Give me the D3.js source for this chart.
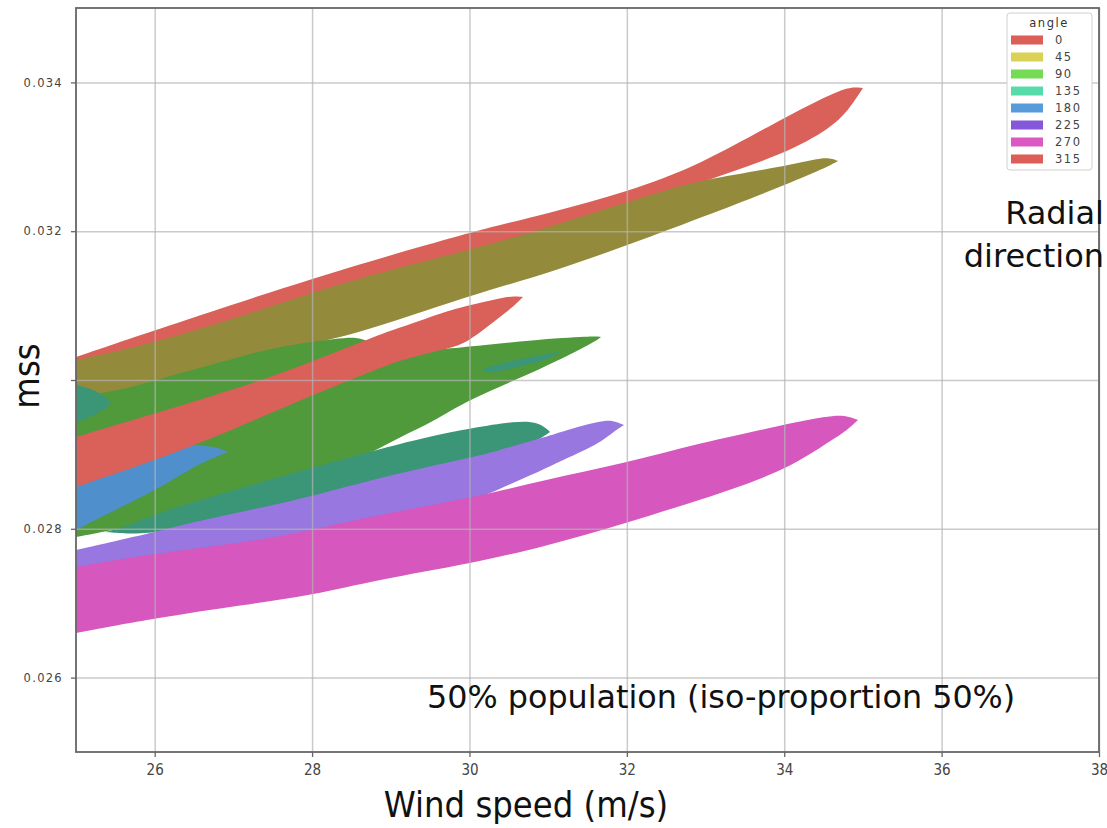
<!DOCTYPE html>
<html lang="en">
<head>
	<meta charset="utf-8">
	<title>mss vs wind speed - radial direction</title>
	<script src="https://d3js.org/d3.v7.min.js"></script>
	<style>
		body { margin: 0; background: #fff; }
		.tick text { fill: #444; }
		.xaxis .tick text { font-family: 'DejaVu Sans Condensed', 'DejaVu Sans', sans-serif; font-stretch: condensed; font-size: 15px; }
		.yaxis .tick text { font-family: 'DejaVu Sans', sans-serif; font-size: 11.5px; letter-spacing: 1.3px; }
		.tick line { stroke: #666; stroke-width: 1.3; }
		.grid line { stroke: #b4b4b4; stroke-opacity: 0.7; stroke-width: 1.5; }
		.grid .domain { display: none; }
	</style>
</head>
<body>
<div id="chart"></div>
<script>
	// legend / categories
	const angles = [0, 45, 90, 135, 180, 225, 270, 315];
	const legendColors = ["#db5f57", "#dbd157", "#75db57", "#57dbab", "#579bdb", "#8557db", "#db57c1", "#db5f57"];
	const fillColors = ["#da605a", "#948a3b", "#509a3c", "#3a9676", "#4f8fcb", "#9877e0", "#d657bd", "#da605a"];

	const xTicks = [26, 28, 30, 32, 34, 36, 38];
	const yTicks = [0.026, 0.028, 0.030, 0.032, 0.034];
	const yTickLabels = ["0.026", "0.028", "", "0.032", "0.034"];

	// 50% iso-proportion contours: wind speed, upper mss, lower mss
	const ws0 = [25.000, 26.017, 27.999, 30.007, 31.024, 32.002, 32.930, 33.985, 34.620, 34.836, 35.001];
	const hi0 = [0.030309, 0.030672, 0.031371, 0.031989, 0.032245, 0.032527, 0.032890, 0.033522, 0.033858, 0.033938, 0.033925];
	const lo0 = [0.030202, 0.030470, 0.031075, 0.031613, 0.031882, 0.032285, 0.032661, 0.033024, 0.033401, 0.033656, 0.033925];

	const ws45 = [25.000, 26.017, 27.542, 28.482, 30.007, 31.024, 32.294, 32.930, 33.985, 34.518, 34.684];
	const hi45 = [0.030269, 0.030497, 0.031008, 0.031344, 0.031747, 0.032056, 0.032487, 0.032688, 0.032863, 0.033011, 0.032944];
	const lo45 = [0.029731, 0.029933, 0.030403, 0.030578, 0.031142, 0.031438, 0.031922, 0.032177, 0.032608, 0.032849, 0.032944];

	const ws90 = [25.000, 25.419, 26.017, 27.122, 27.542, 28.355, 28.609, 28.812, 29.117, 29.537, 29.969, 30.808, 31.570, 31.672];
	const hi90 = [0.029785, 0.029825, 0.030000, 0.030323, 0.030444, 0.030565, 0.030578, 0.030470, 0.030376, 0.030403, 0.030444, 0.030538, 0.030591, 0.030578];
	const lo90 = [0.027890, 0.027970, 0.028105, 0.028427, 0.028589, 0.028858, 0.028952, 0.029059, 0.029234, 0.029435, 0.029731, 0.030094, 0.030497, 0.030578];

	const ws135a = [25.000, 25.241, 25.369, 25.445];
	const hi135a = [0.029933, 0.029866, 0.029785, 0.029691];
	const lo135a = [0.029422, 0.029530, 0.029610, 0.029691];

	const ws135b = [30.159, 30.261, 30.642, 30.960, 31.151];
	const hi135b = [0.030134, 0.030188, 0.030282, 0.030349, 0.030376];
	const lo135b = [0.030134, 0.030081, 0.030188, 0.030255, 0.030376];

	const ws135c = [25.369, 25.635, 26.017, 27.122, 28.812, 29.448, 30.045, 30.592, 30.884, 31.024];
	const hi135c = [0.027957, 0.028024, 0.028212, 0.028562, 0.029059, 0.029234, 0.029355, 0.029449, 0.029435, 0.029301];
	const lo135c = [0.027957, 0.027930, 0.027944, 0.028118, 0.028589, 0.028723, 0.028898, 0.029086, 0.029194, 0.029301];

	const ws180 = [25.000, 25.496, 26.017, 26.487, 26.779, 26.932];
	const hi180 = [0.028589, 0.028858, 0.029099, 0.029140, 0.029099, 0.029032];
	const lo180 = [0.027984, 0.028253, 0.028522, 0.028831, 0.028965, 0.029032];

	const ws225 = [25.000, 26.017, 26.576, 27.847, 28.812, 30.045, 30.299, 31.011, 31.189, 31.659, 31.812, 31.964];
	const hi225 = [0.027715, 0.027957, 0.028118, 0.028387, 0.028683, 0.028965, 0.029032, 0.029247, 0.029315, 0.029449, 0.029462, 0.029395];
	const lo225 = [0.027379, 0.027581, 0.027688, 0.027917, 0.028145, 0.028387, 0.028495, 0.028831, 0.028925, 0.029153, 0.029288, 0.029395];

	const ws270 = [25.000, 26.017, 27.122, 28.012, 28.812, 30.045, 30.935, 31.989, 32.930, 33.985, 34.544, 34.773, 34.938];
	const hi270 = [0.027487, 0.027675, 0.027809, 0.027984, 0.028185, 0.028414, 0.028656, 0.028884, 0.029153, 0.029395, 0.029516, 0.029530, 0.029462];
	const lo270 = [0.026599, 0.026801, 0.026976, 0.027110, 0.027312, 0.027540, 0.027755, 0.028078, 0.028387, 0.028763, 0.029153, 0.029301, 0.029462];

	const ws315 = [25.000, 26.017, 26.906, 27.847, 28.901, 29.117, 29.753, 29.969, 30.388, 30.579, 30.681];
	const hi315 = [0.029234, 0.029556, 0.029839, 0.030175, 0.030632, 0.030699, 0.030941, 0.030995, 0.031102, 0.031129, 0.031116];
	const lo315 = [0.028562, 0.028925, 0.029288, 0.029731, 0.030175, 0.030269, 0.030430, 0.030497, 0.030847, 0.031008, 0.031116];

	// drawing order = hue order
	const layers = [
		[ws0, hi0, lo0, 0],
		[ws45, hi45, lo45, 1],
		[ws90, hi90, lo90, 2],
		[ws135a, hi135a, lo135a, 3],
		[ws135b, hi135b, lo135b, 3],
		[ws135c, hi135c, lo135c, 3],
		[ws180, hi180, lo180, 4],
		[ws225, hi225, lo225, 5],
		[ws270, hi270, lo270, 6],
		[ws315, hi315, lo315, 7]
	];

	const width = 1107;
	const height = 828;
	const plotLeft = 76, plotTop = 8, plotRight = 1099, plotBottom = 752;

	const svg = d3.select("#chart").append("svg")
		.attr("width", width)
		.attr("height", height);

	const x = d3.scaleLinear().domain([25, 38]).range([plotLeft, plotRight]);
	const y = d3.scaleLinear().domain([0.025, 0.035]).range([plotBottom, plotTop]);

	svg.append("clipPath").attr("id", "plotclip")
		.append("rect")
		.attr("x", plotLeft).attr("y", plotTop)
		.attr("width", plotRight - plotLeft).attr("height", plotBottom - plotTop);

	// filled contours
	const area = d3.area()
		.x(d => x(d[0]))
		.y0(d => y(d[2]))
		.y1(d => y(d[1]))
		.curve(d3.curveBasis);

	const shapes = svg.append("g").attr("clip-path", "url(#plotclip)");
	layers.forEach(function(l) {
		let pts = l[0].map((w, i) => [w, l[1][i], l[2][i]]);
		shapes.append("path")
			.attr("d", area(pts))
			.attr("fill", fillColors[l[3]]);
	});

	// grid on top of the fills
	svg.append("g")
		.attr("class", "grid")
		.attr("transform", "translate(0," + plotBottom + ")")
		.call(d3.axisBottom(x).tickValues(xTicks).tickSize(-(plotBottom - plotTop)).tickFormat(""));
	svg.append("g")
		.attr("class", "grid")
		.attr("transform", "translate(" + plotLeft + ",0)")
		.call(d3.axisLeft(y).tickValues(yTicks).tickSize(-(plotRight - plotLeft)).tickFormat(""));

	// axes
	const xAxis = svg.append("g")
		.attr("class", "xaxis")
		.attr("transform", "translate(0," + plotBottom + ")")
		.call(d3.axisBottom(x).tickValues(xTicks).tickSize(5).tickPadding(7).tickFormat(d3.format("d")));
	xAxis.select(".domain").remove();

	const yAxis = svg.append("g")
		.attr("class", "yaxis")
		.attr("transform", "translate(" + plotLeft + ",0)")
		.call(d3.axisLeft(y).tickValues(yTicks).tickSize(5).tickPadding(8)
			.tickFormat((d, i) => yTickLabels[i]));
	yAxis.select(".domain").remove();

	// frame
	svg.append("rect")
		.attr("x", plotLeft).attr("y", plotTop)
		.attr("width", plotRight - plotLeft).attr("height", plotBottom - plotTop)
		.attr("fill", "none")
		.attr("stroke", "#666")
		.attr("stroke-width", 1.8);

	// axis titles
	svg.append("text")
		.attr("x", 526)
		.attr("y", 817)
		.attr("text-anchor", "middle")
		.style("font-family", "'DejaVu Sans Condensed', 'DejaVu Sans', sans-serif")
		.style("font-stretch", "condensed")
		.style("font-size", "36px")
		.attr("fill", "#111")
		.text("Wind speed (m/s)");

	svg.append("text")
		.attr("transform", "translate(39,376) rotate(-90)")
		.attr("text-anchor", "middle")
		.style("font-family", "'DejaVu Sans Condensed', 'DejaVu Sans', sans-serif")
		.style("font-stretch", "condensed")
		.style("font-size", "36px")
		.attr("fill", "#111")
		.text("mss");

	// annotations
	const ann = svg.append("g")
		.style("font-family", "'DejaVu Sans', sans-serif")
		.attr("fill", "#111");
	ann.append("text").attr("x", 1104).attr("y", 224).attr("text-anchor", "end")
		.style("font-size", "32px").text("Radial");
	ann.append("text").attr("x", 1104).attr("y", 267).attr("text-anchor", "end")
		.style("font-size", "32px").text("direction");
	ann.append("text").attr("x", 427).attr("y", 708)
		.style("font-size", "31.8px").text("50% population (iso-proportion 50%)");

	// legend
	const legend = svg.append("g")
		.style("font-family", "'DejaVu Sans', sans-serif")
		.style("font-size", "11.5px")
		.style("letter-spacing", "1.5px");
	legend.append("rect")
		.attr("x", 1007).attr("y", 13)
		.attr("width", 85).attr("height", 157)
		.attr("rx", 3)
		.attr("fill", "#fff")
		.attr("stroke", "#d0d0d0");
	legend.append("text")
		.attr("x", 1049).attr("y", 27)
		.attr("text-anchor", "middle")
		.attr("fill", "#333")
		.text("angle");
	const rowY = d3.scaleLinear().domain([0, 7]).range([40, 159]);
	const rows = legend.selectAll("g.row")
		.data(angles)
		.enter()
		.append("g")
		.attr("class", "row")
		.attr("transform", (d, i) => "translate(0," + rowY(i) + ")");
	rows.append("rect")
		.attr("x", 1011).attr("y", -4.5)
		.attr("width", 32).attr("height", 9)
		.attr("fill", (d, i) => legendColors[i]);
	rows.append("text")
		.attr("x", 1055).attr("dy", "0.35em")
		.attr("fill", "#444")
		.text(d => d);
</script>
</body>
</html>
